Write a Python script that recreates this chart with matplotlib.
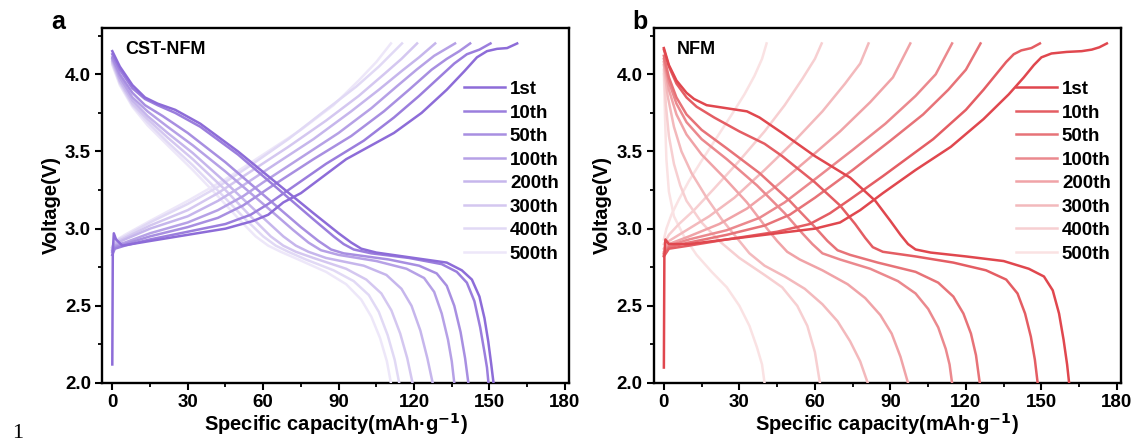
import matplotlib.pyplot as plt
from matplotlib.ticker import MultipleLocator, FormatStrFormatter
import numpy as np

plt.rcParams['font.family'] = ['Liberation Sans', 'DejaVu Sans']
plt.rcParams['font.weight'] = 'bold'

cycles = ['1st', '10th', '50th', '100th', '200th', '300th', '400th', '500th']
alphas = [1.0, 0.88, 0.76, 0.64, 0.5, 0.38, 0.26, 0.16]

# ---- CST-NFM: (capacity mAh/g, voltage V) ----
cst_chg_1 = [(0, 2.12), (0.2, 2.85), (0.6, 2.97), (1.5, 2.93), (4, 2.89), (15, 2.92), (30, 2.96),
             (45, 3.0), (56, 3.05), (62, 3.09), (68, 3.17), (75, 3.23), (93, 3.45), (112, 3.62),
             (123, 3.75), (133, 3.9), (140, 4.02), (145, 4.11), (149, 4.15), (153, 4.165),
             (157, 4.17), (161, 4.2)]
cst_chg_10 = [(0, 2.83), (1, 2.87), (5, 2.89), (15, 2.93), (30, 2.98), (45, 3.03), (55, 3.09),
              (62, 3.16), (70, 3.25), (85, 3.42), (100, 3.57), (112, 3.72), (122, 3.86), (130, 3.98),
              (136, 4.07), (141, 4.13), (146, 4.16), (150.4, 4.2)]
cst_chg_50 = [(0, 2.85), (1, 2.88), (5, 2.9), (15, 2.95), (30, 3.01), (42, 3.07), (52, 3.15),
              (62, 3.26), (80, 3.45), (95, 3.6), (108, 3.76), (118, 3.9), (127, 4.03), (133, 4.1),
              (138, 4.15), (142.3, 4.2)]
cst_chg_100 = [(0, 2.86), (1, 2.89), (5, 2.91), (15, 2.97), (30, 3.04), (42, 3.12), (52, 3.21),
               (60, 3.3), (75, 3.46), (90, 3.62), (103, 3.78), (113, 3.92), (121, 4.03), (128, 4.12),
               (136.3, 4.2)]
cst_chg_200 = [(0, 2.87), (1, 2.9), (5, 2.93), (15, 3.0), (30, 3.08), (42, 3.18), (52, 3.28),
               (65, 3.42), (80, 3.58), (95, 3.76), (106, 3.9), (115, 4.02), (122, 4.11), (128.4, 4.2)]
cst_chg_300 = [(0, 2.88), (1, 2.91), (5, 2.94), (15, 3.02), (30, 3.12), (42, 3.23), (55, 3.37),
               (70, 3.53), (85, 3.7), (98, 3.86), (108, 4.0), (115, 4.1), (121.2, 4.2)]
cst_chg_400 = [(0, 2.88), (1, 2.92), (5, 2.95), (15, 3.04), (30, 3.16), (42, 3.27), (55, 3.41),
               (70, 3.58), (85, 3.77), (97, 3.92), (106, 4.05), (115.2, 4.2)]
cst_chg_500 = [(0, 2.88), (1, 2.92), (5, 2.96), (15, 3.05), (30, 3.18), (45, 3.32), (60, 3.48),
               (75, 3.64), (88, 3.8), (98, 3.96), (105, 4.08), (110.8, 4.2)]

cst_dis_1 = [(0, 4.15), (3, 4.05), (8, 3.93), (13, 3.85), (18, 3.81), (25, 3.77), (35, 3.68),
             (50, 3.5), (65, 3.3), (80, 3.1), (90, 2.97), (95, 2.91), (99, 2.87), (105, 2.845),
             (120, 2.81), (133, 2.78), (139, 2.73), (143, 2.67), (146, 2.56), (148, 2.42),
             (149.5, 2.27), (150.7, 2.12), (151.6, 2.0)]
cst_dis_10 = [(0, 4.13), (3, 4.03), (8, 3.91), (13, 3.84), (18, 3.8), (25, 3.75), (35, 3.66),
              (50, 3.48), (65, 3.27), (80, 3.06), (88, 2.95), (92, 2.9), (96, 2.865), (103, 2.84),
              (118, 2.81), (131, 2.77), (137, 2.72), (141, 2.65), (144, 2.53), (146.3, 2.36),
              (148, 2.2), (149, 2.1), (149.6, 2.0)]
cst_dis_50 = [(0, 4.11), (3, 4.0), (8, 3.88), (13, 3.8), (20, 3.73), (30, 3.62), (45, 3.43),
              (60, 3.22), (75, 3.01), (82, 2.92), (87, 2.865), (92, 2.84), (110, 2.8), (122, 2.76),
              (129, 2.71), (133, 2.63), (136, 2.5), (138.5, 2.33), (140.3, 2.16), (141.6, 2.0)]
cst_dis_100 = [(0, 4.1), (3, 3.98), (8, 3.85), (14, 3.76), (22, 3.66), (32, 3.54), (45, 3.37),
               (60, 3.16), (72, 2.99), (78, 2.91), (83, 2.86), (90, 2.83), (105, 2.79), (117, 2.74),
               (124, 2.68), (128, 2.59), (131, 2.45), (133.5, 2.28), (135, 2.14), (136, 2.0)]
cst_dis_200 = [(0, 4.09), (3, 3.96), (8, 3.83), (14, 3.73), (22, 3.62), (32, 3.49), (45, 3.3),
               (58, 3.1), (68, 2.95), (73, 2.89), (78, 2.85), (85, 2.81), (100, 2.76), (109, 2.7),
               (115, 2.61), (119, 2.5), (122.5, 2.34), (125.3, 2.16), (127.4, 2.0)]
cst_dis_300 = [(0, 4.08), (3, 3.95), (8, 3.81), (14, 3.71), (22, 3.59), (32, 3.45), (45, 3.25),
               (55, 3.08), (63, 2.95), (68, 2.89), (73, 2.85), (80, 2.81), (93, 2.74), (101, 2.67),
               (107, 2.58), (111, 2.47), (114.5, 2.32), (117.3, 2.16), (119.4, 2.0)]
cst_dis_400 = [(0, 4.07), (3, 3.94), (8, 3.8), (14, 3.69), (22, 3.56), (32, 3.41), (43, 3.23),
               (53, 3.06), (60, 2.95), (65, 2.89), (70, 2.85), (77, 2.8), (88, 2.73), (96, 2.66),
               (102, 2.57), (106, 2.46), (109.5, 2.31), (112.3, 2.15), (114.1, 2.0)]
cst_dis_500 = [(0, 4.06), (3, 3.93), (8, 3.79), (14, 3.67), (22, 3.54), (32, 3.38), (42, 3.21),
               (51, 3.05), (57, 2.95), (62, 2.89), (67, 2.85), (74, 2.8), (85, 2.72), (93, 2.64),
               (99, 2.54), (103, 2.43), (106.5, 2.29), (109.2, 2.14), (110.8, 2.0)]

# ---- NFM ----
nfm_chg_1 = [(0, 2.1), (0.2, 2.82), (0.6, 2.93), (2, 2.9), (10, 2.9), (25, 2.93), (45, 2.97),
             (60, 3.0), (70, 3.04), (78, 3.12), (87, 3.23), (100, 3.38), (114, 3.53), (127, 3.71),
             (137, 3.87), (143, 3.98), (147, 4.06), (150, 4.11), (154, 4.135), (160, 4.145),
             (166, 4.15), (170, 4.16), (173, 4.175), (176, 4.2)]
nfm_chg_10 = [(0, 2.82), (2, 2.87), (10, 2.89), (25, 2.93), (45, 2.98), (58, 3.03), (66, 3.1),
              (74, 3.19), (87, 3.34), (107, 3.58), (120, 3.77), (127, 3.9), (132, 4.0), (136, 4.08),
              (139, 4.13), (142, 4.155), (146, 4.17), (149.4, 4.2)]
nfm_chg_50 = [(0, 2.83), (2, 2.88), (10, 2.91), (25, 2.96), (40, 3.02), (50, 3.09), (60, 3.2),
              (75, 3.38), (90, 3.57), (103, 3.74), (113, 3.9), (120, 4.03), (125.8, 4.2)]
nfm_chg_100 = [(0, 2.84), (2, 2.89), (10, 2.93), (25, 2.99), (38, 3.07), (48, 3.17), (60, 3.32),
               (75, 3.51), (88, 3.68), (100, 3.86), (108, 4.0), (114.5, 4.2)]
nfm_chg_200 = [(0, 2.85), (2, 2.9), (10, 2.95), (22, 3.03), (33, 3.13), (45, 3.28), (58, 3.46),
               (70, 3.63), (82, 3.82), (91, 3.98), (97.9, 4.2)]
nfm_chg_300 = [(0, 2.87), (2, 2.92), (8, 2.98), (18, 3.08), (28, 3.2), (40, 3.38), (52, 3.57),
               (63, 3.76), (72, 3.94), (78, 4.07), (81.3, 4.2)]
nfm_chg_400 = [(0, 2.9), (2, 2.96), (6, 3.03), (12, 3.12), (20, 3.26), (30, 3.44), (40, 3.63),
               (48, 3.8), (55, 3.97), (60, 4.1), (62.7, 4.2)]
nfm_chg_500 = [(0, 2.93), (1, 3.0), (3, 3.09), (6, 3.19), (10, 3.31), (15, 3.44), (21, 3.59),
               (27, 3.74), (32, 3.87), (36, 3.99), (39, 4.1), (40.8, 4.2)]

nfm_dis_1 = [(0, 4.17), (2, 4.06), (5, 3.96), (9, 3.88), (12, 3.84), (17, 3.8), (25, 3.78),
             (33, 3.76), (38, 3.72), (47, 3.62), (60, 3.47), (74, 3.33), (84, 3.18), (90, 3.05),
             (94, 2.96), (97, 2.9), (100, 2.865), (106, 2.845), (120, 2.82), (135, 2.79),
             (145, 2.74), (151, 2.69), (154.5, 2.6), (157, 2.45), (158.8, 2.28), (160.2, 2.12),
             (161, 2.0)]
nfm_dis_10 = [(0, 4.16), (2, 4.05), (5, 3.94), (9, 3.85), (13, 3.79), (20, 3.72), (30, 3.63),
              (40, 3.55), (47, 3.47), (60, 3.3), (70, 3.15), (76, 3.03), (80, 2.94), (83, 2.88),
              (87, 2.85), (100, 2.82), (115, 2.78), (128, 2.73), (136, 2.67), (140.5, 2.58),
              (143.5, 2.45), (145.8, 2.3), (147.4, 2.15), (148.5, 2.0)]
nfm_dis_50 = [(0, 4.12), (2, 3.98), (5, 3.85), (9, 3.74), (15, 3.64), (25, 3.52), (38, 3.36),
              (50, 3.18), (60, 3.01), (65, 2.92), (69, 2.86), (74, 2.83), (85, 2.78), (100, 2.72),
              (109, 2.65), (115, 2.56), (119, 2.45), (122, 2.32), (124, 2.18), (125.5, 2.0)]
nfm_dis_100 = [(0, 4.1), (2, 3.95), (5, 3.81), (9, 3.69), (15, 3.58), (25, 3.45), (37, 3.28),
               (48, 3.1), (55, 2.97), (59, 2.9), (63, 2.84), (70, 2.8), (82, 2.74), (93, 2.66),
               (100, 2.58), (105, 2.48), (109, 2.36), (112, 2.22), (113.5, 2.12), (114.5, 2.0)]
nfm_dis_200 = [(0, 4.08), (2, 3.9), (5, 3.74), (9, 3.61), (15, 3.48), (24, 3.33), (33, 3.17),
               (41, 3.0), (45, 2.92), (49, 2.85), (54, 2.8), (63, 2.73), (73, 2.64), (80, 2.55),
               (86, 2.44), (90.5, 2.32), (94, 2.17), (97, 2.0)]
nfm_dis_300 = [(0, 4.06), (1.5, 3.86), (4, 3.66), (7, 3.5), (11, 3.36), (17, 3.2), (23, 3.06),
               (29, 2.94), (34, 2.84), (40, 2.76), (48, 2.69), (56, 2.61), (63, 2.51), (69, 2.4),
               (74, 2.27), (78, 2.14), (81, 2.0)]
nfm_dis_400 = [(0, 4.03), (0.8, 3.8), (2, 3.6), (4, 3.42), (6.5, 3.28), (9, 3.18), (15, 3.04),
               (22, 2.92), (30, 2.81), (40, 2.7), (47, 2.62), (53, 2.5), (57, 2.37), (60, 2.2),
               (62, 2.0)]
nfm_dis_500 = [(0, 4.0), (0.5, 3.7), (1, 3.45), (2, 3.24), (4, 3.08), (8, 2.95), (13, 2.83),
               (19, 2.72), (25, 2.62), (30, 2.5), (34, 2.37), (37, 2.23), (39, 2.12), (40, 2.0)]

cst_charge = [cst_chg_1, cst_chg_10, cst_chg_50, cst_chg_100, cst_chg_200, cst_chg_300, cst_chg_400, cst_chg_500]
cst_discharge = [cst_dis_1, cst_dis_10, cst_dis_50, cst_dis_100, cst_dis_200, cst_dis_300, cst_dis_400, cst_dis_500]
nfm_charge = [nfm_chg_1, nfm_chg_10, nfm_chg_50, nfm_chg_100, nfm_chg_200, nfm_chg_300, nfm_chg_400, nfm_chg_500]
nfm_discharge = [nfm_dis_1, nfm_dis_10, nfm_dis_50, nfm_dis_100, nfm_dis_200, nfm_dis_300, nfm_dis_400, nfm_dis_500]


def blend(color, a):
    c = np.array(plt.matplotlib.colors.to_rgb(color))
    return tuple(1 - a * (1 - c))


def draw_panel(ax, charge, discharge, color, name):
    for i, lab in enumerate(cycles):
        col = blend(color, alphas[i])
        q, v = zip(*charge[i])
        ax.plot(q, v, color=col, lw=1.8, label=lab, zorder=10 - i, solid_joinstyle='round')
        q, v = zip(*discharge[i])
        ax.plot(q, v, color=col, lw=1.8, zorder=10 - i, solid_joinstyle='round')

    ax.set_xlim(-4.1, 181.6)
    ax.set_ylim(2.0, 4.3)
    ax.xaxis.set_major_locator(MultipleLocator(30))
    ax.xaxis.set_minor_locator(MultipleLocator(15))
    ax.yaxis.set_major_locator(MultipleLocator(0.5))
    ax.yaxis.set_minor_locator(MultipleLocator(0.25))
    ax.yaxis.set_major_formatter(FormatStrFormatter('%.1f'))
    ax.tick_params(which='major', direction='out', length=5, width=1.5, labelsize=13.5, pad=3)
    ax.tick_params(which='minor', direction='out', length=3, width=1.3)
    for s in ax.spines.values():
        s.set_linewidth(1.7)
    for t in ax.get_xticklabels() + ax.get_yticklabels():
        t.set_fontweight('bold')
    ax.set_xlabel('Specific capacity(mAh·g$^{\\mathbf{-1}}$)', fontsize=14.5, fontweight='bold', labelpad=0)
    ax.set_ylabel('Voltage(V)', fontsize=14.5, fontweight='bold', labelpad=3)
    ax.text(0.05, 0.962, name, transform=ax.transAxes, fontsize=13, fontweight='bold', va='top')
    ax.legend(loc='upper right', bbox_to_anchor=(1.0, 0.88), frameon=False,
              handlelength=2.2, handletextpad=0.25, labelspacing=0.34, borderaxespad=0.15,
              prop={'weight': 'bold', 'size': 13.5})


fig = plt.figure(figsize=(11.37, 4.46), dpi=100)
ax1 = fig.add_axes([0.0897, 0.1413, 0.4107, 0.7959])
ax2 = fig.add_axes([0.5748, 0.1413, 0.4111, 0.7959])

draw_panel(ax1, cst_charge, cst_discharge, '#8D6CD8', 'CST-NFM')
draw_panel(ax2, nfm_charge, nfm_discharge, '#E0474E', 'NFM')

fig.text(58 / 1137, 1 - 22 / 446, 'a', fontsize=18, fontweight='bold', ha='center', va='center')
fig.text(640 / 1137, 1 - 22 / 446, 'b', fontsize=18, fontweight='bold', ha='center', va='center')
fig.text(18 / 1137, 1 - 433 / 446, '1', fontsize=16, family='Liberation Serif', fontweight='normal',
         ha='center', va='center')

fig.savefig('out.png', dpi=100, facecolor='white')
